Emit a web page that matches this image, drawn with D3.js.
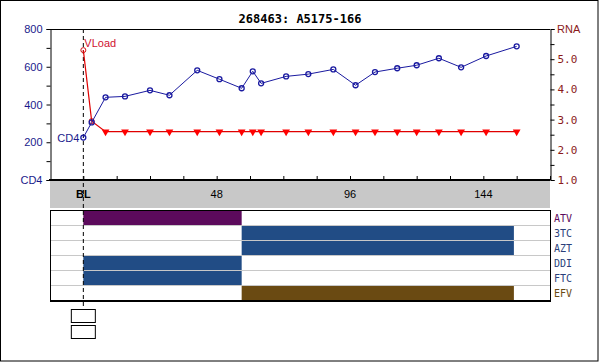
<!DOCTYPE html>
<html>
<head>
<meta charset="utf-8">
<script src="https://cdn.jsdelivr.net/npm/d3@7"></script>
<style>
  body { margin: 0; background: #fff; }
  svg { display: block; }
</style>
</head>
<body>
<div id="wrapper"></div>
<script>
// chart values
const title = "268463: A5175-166";
const weeks = [0, 3, 8, 15, 24, 31, 41, 49, 57, 61, 64, 73, 81, 90, 98, 105, 113, 120, 128, 136, 145, 156];
const cd4 = [225, 305, 438, 443, 475, 449, 581, 534, 486, 576, 512, 549, 561, 586, 502, 572, 592, 608, 645, 597, 657, 708];
const rna = [5.3, 2.95, 2.6, 2.6, 2.6, 2.6, 2.6, 2.6, 2.6, 2.6, 2.6, 2.6, 2.6, 2.6, 2.6, 2.6, 2.6, 2.6, 2.6, 2.6, 2.6, 2.6];
const rnaBelowLimit = [false, false, true, true, true, true, true, true, true, true, true, true, true, true, true, true, true, true, true, true, true, true];
const cd4Ticks = [200, 400, 600, 800];
const rnaTicks = [1, 2, 3, 4, 5];
const weekLabels = [0, 48, 96, 144];
const drugs = ["ATV", "3TC", "AZT", "DDI", "FTC", "EFV"];
const drugStart = [0, 57, 57, 0, 0, 57];
const drugStop = [57, 155, 155, 57, 57, 155];
const drugColors = ["#5c0a5c", "#214c85", "#214c85", "#214c85", "#214c85", "#6a4a12"];
const drugLabelColors = ["#5c0a5c", "#2a3f7a", "#2a3f7a", "#2a3f7a", "#2a3f7a", "#6a4a12"];

const dimensions = {
  width: 600,
  height: 362,
  plot: { left: 50, right: 550, top: 29, bottom: 180 },
  band: { top: 180, bottom: 208 },
  rx: { top: 210, rowHeight: 15 },
};

const svg = d3.select("#wrapper").append("svg")
  .attr("width", dimensions.width)
  .attr("height", dimensions.height);

// outer frame
svg.append("rect")
  .attr("x", 0.5).attr("y", 0.5)
  .attr("width", 597.5).attr("height", 360.5)
  .attr("fill", "#fff").attr("stroke", "#000");

const xScale = d3.scaleLinear()
  .domain([-12, 168])
  .range([dimensions.plot.left, dimensions.plot.right]);

const yCd4 = d3.scaleLinear()
  .domain([0, 800])
  .range([dimensions.plot.bottom, dimensions.plot.top]);

const yRna = d3.scaleLinear()
  .domain([1, 6])
  .range([dimensions.plot.bottom, dimensions.plot.top]);

// title
svg.append("text")
  .attr("x", 300).attr("y", 23)
  .attr("text-anchor", "middle")
  .style("font-family", "DejaVu Sans Mono")
  .style("font-weight", "bold")
  .style("font-size", "12px")
  .text(title);

// gray band under the plot
svg.append("rect")
  .attr("x", dimensions.plot.left).attr("y", dimensions.band.top)
  .attr("width", dimensions.plot.right - dimensions.plot.left)
  .attr("height", dimensions.band.bottom - dimensions.band.top)
  .attr("fill", "#c8c8c8");

// plot frame (top line)
svg.append("line")
  .attr("x1", dimensions.plot.left).attr("x2", dimensions.plot.right)
  .attr("y1", dimensions.plot.top + 0.5).attr("y2", dimensions.plot.top + 0.5)
  .attr("stroke", "#000");

// left axis (CD4)
const yAxisLeft = d3.axisLeft(yCd4)
  .tickValues(d3.range(0, 801, 100))
  .tickSize(4)
  .tickFormat(d => cd4Ticks.includes(d) ? d : (d === 0 ? "CD4" : ""));
const gLeft = svg.append("g")
  .attr("transform", `translate(${dimensions.plot.left + 0.5},0)`)
  .call(yAxisLeft);
gLeft.select(".domain").attr("stroke", "#000");
gLeft.selectAll(".tick line").attr("stroke", "#000");
gLeft.selectAll("text")
  .attr("fill", "#1a1a8c")
  .attr("x", -8)
  .style("font-family", "Liberation Sans, Arial")
  .style("font-size", "11px");

// right axis (RNA)
const yAxisRight = d3.axisRight(yRna)
  .tickValues(d3.range(1, 6.01, 0.5))
  .tickSize(4)
  .tickFormat(d => rnaTicks.includes(d) ? d3.format(".1f")(d) : "");
const gRight = svg.append("g")
  .attr("transform", `translate(${dimensions.plot.right + 0.5},0)`)
  .call(yAxisRight);
gRight.select(".domain").attr("stroke", "#000");
gRight.selectAll(".tick line").attr("stroke", "#000");
gRight.selectAll("text")
  .attr("fill", "#8b1a1a")
  .attr("x", 7)
  .style("font-family", "DejaVu Sans Mono")
  .style("font-size", "11px");
svg.append("text")
  .attr("x", dimensions.plot.right + 7).attr("y", dimensions.plot.top + 4)
  .attr("fill", "#8b1a1a")
  .style("font-family", "Liberation Sans, Arial")
  .style("font-size", "11px")
  .text("RNA");

// bottom axis (weeks)
const xAxis = d3.axisTop(xScale)
  .tickValues(d3.range(0, 169, 12))
  .tickSize(4)
  .tickFormat("");
const gX = svg.append("g")
  .attr("transform", `translate(0,${dimensions.plot.bottom})`)
  .call(xAxis);
gX.select(".domain").remove();
gX.selectAll(".tick line").attr("stroke", "#000");
svg.append("line")
  .attr("x1", dimensions.plot.left - 1).attr("x2", dimensions.plot.right)
  .attr("y1", dimensions.plot.bottom).attr("y2", dimensions.plot.bottom)
  .attr("stroke", "#000").attr("stroke-width", 2);

svg.append("g").selectAll("text")
  .data(weekLabels)
  .join("text")
  .attr("x", d => xScale(d))
  .attr("y", 198)
  .attr("text-anchor", "middle")
  .style("font-family", "Liberation Sans, Arial")
  .style("font-size", "11px")
  .style("font-weight", d => d === 0 ? "bold" : "normal")
  .text(d => d === 0 ? "BL" : d);

// treatment panel
const rxBottom = dimensions.rx.top + drugs.length * dimensions.rx.rowHeight;
const yRow = d3.scaleBand()
  .domain(drugs)
  .range([dimensions.rx.top, rxBottom]);

svg.append("g").selectAll("line")
  .data(drugs.slice(1))
  .join("line")
  .attr("x1", dimensions.plot.left).attr("x2", dimensions.plot.right)
  .attr("y1", d => yRow(d) + 0.5).attr("y2", d => yRow(d) + 0.5)
  .attr("stroke", "#c8c8c8");

svg.append("g").selectAll("rect")
  .data(drugs)
  .join("rect")
  .attr("x", (d, i) => xScale(drugStart[i]))
  .attr("y", d => yRow(d) + 1)
  .attr("width", (d, i) => xScale(drugStop[i]) - xScale(drugStart[i]))
  .attr("height", yRow.bandwidth() - 1)
  .attr("fill", (d, i) => drugColors[i]);

svg.append("rect")
  .attr("x", dimensions.plot.left + 0.5).attr("y", dimensions.rx.top + 0.5)
  .attr("width", dimensions.plot.right - dimensions.plot.left)
  .attr("height", rxBottom - dimensions.rx.top)
  .attr("fill", "none").attr("stroke", "#000");
svg.append("line")
  .attr("x1", dimensions.plot.left).attr("x2", dimensions.plot.right + 1)
  .attr("y1", rxBottom + 1).attr("y2", rxBottom + 1)
  .attr("stroke", "#000").attr("stroke-width", 2);

svg.append("g").selectAll("text")
  .data(drugs)
  .join("text")
  .attr("x", dimensions.plot.right + 4)
  .attr("y", d => yRow(d) + yRow.bandwidth() / 2 + 4)
  .attr("fill", (d, i) => drugLabelColors[i])
  .style("font-family", "DejaVu Sans Mono")
  .style("font-size", "10px")
  .text(d => d);

// baseline dashed line
svg.append("line")
  .attr("x1", xScale(0)).attr("x2", xScale(0))
  .attr("y1", dimensions.plot.top).attr("y2", 309)
  .attr("stroke", "#000")
  .attr("stroke-dasharray", "4,3");

// small boxes below baseline
svg.append("g").selectAll("rect")
  .data([309.5, 325.5])
  .join("rect")
  .attr("x", xScale(0) - 12).attr("y", d => d)
  .attr("width", 24).attr("height", 13)
  .attr("fill", "#fff").attr("stroke", "#000");

// RNA series
const rnaData = weeks.map((w, i) => ({ week: w, value: rna[i], below: rnaBelowLimit[i] }));
const rnaLine = d3.line()
  .x(d => xScale(d.week))
  .y(d => yRna(d.value));
svg.append("path")
  .attr("d", rnaLine(rnaData))
  .attr("fill", "none")
  .attr("stroke", "#e00000")
  .attr("stroke-width", 1.2);

svg.append("g").selectAll("circle")
  .data(rnaData.filter(d => !d.below))
  .join("circle")
  .attr("cx", d => xScale(d.week))
  .attr("cy", d => yRna(d.value))
  .attr("r", 2.5)
  .attr("fill", "none")
  .attr("stroke", "#d01010");

const tri = d3.symbol().type(d3.symbolTriangle).size(26);
svg.append("g").selectAll("path")
  .data(rnaData.filter(d => d.below))
  .join("path")
  .attr("transform", d => `translate(${xScale(d.week)},${yRna(d.value)}) rotate(180)`)
  .attr("d", tri)
  .attr("fill", "#ff0000");

// CD4 series
const cd4Data = weeks.map((w, i) => ({ week: w, value: cd4[i] }));
const cd4Line = d3.line()
  .x(d => xScale(d.week))
  .y(d => yCd4(d.value));
svg.append("path")
  .attr("d", cd4Line(cd4Data))
  .attr("fill", "none")
  .attr("stroke", "#1a1aa0")
  .attr("stroke-width", 1);

svg.append("g").selectAll("circle")
  .data(cd4Data)
  .join("circle")
  .attr("cx", d => xScale(d.week))
  .attr("cy", d => yCd4(d.value))
  .attr("r", 2.5)
  .attr("fill", "none")
  .attr("stroke", "#1a1aa0")
  .attr("stroke-width", 1.3);

// series labels
svg.append("text")
  .attr("x", xScale(0) + 1).attr("y", yRna(rna[0]) - 3)
  .attr("fill", "#d01030")
  .style("font-family", "Liberation Sans, Arial")
  .style("font-size", "11px")
  .text("VLoad");
svg.append("text")
  .attr("x", xScale(0) - 4).attr("y", yCd4(cd4[0]) + 4)
  .attr("text-anchor", "end")
  .attr("fill", "#1a1a8c")
  .style("font-family", "Liberation Sans, Arial")
  .style("font-size", "11px")
  .text("CD4");
</script>
</body>
</html>
